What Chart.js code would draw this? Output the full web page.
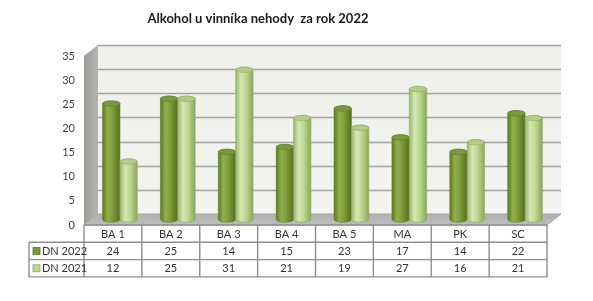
<!DOCTYPE html>
<html>
<head>
<meta charset="utf-8">
<script src="https://cdn.jsdelivr.net/npm/chart.js@4.4.1/dist/chart.umd.min.js"></script>
<style>
    html, body { margin: 0; background: #fff; }
    #wrap { width: 593px; height: 301px; }
</style>
</head>
<body>
<div id="wrap"><canvas id="chart"></canvas></div>
<script>
// ================= DATA =================
const categories = ['BA 1', 'BA 2', 'BA 3', 'BA 4', 'BA 5', 'MA', 'PK', 'SC'];
const dn2022 = [24, 25, 14, 15, 23, 17, 14, 22];
const dn2021 = [12, 25, 31, 21, 19, 27, 16, 21];
const seriesNames = ['DN 2022', 'DN 2021'];
const titleText = 'Alkohol u vinníka nehody  za rok 2022';

// 3D look
const DEPTH = { x: 14, y: 11 };
const FONT = 'Lato, "Open Sans", sans-serif';
const PALETTES = [
    {
        body: [[0, '#5d7b24'], [0.3, '#8fb14b'], [0.55, '#7f9f3c'], [1, '#556f1f']],
        top: '#7a9a3a', rim: '#5e7c28', key: '#7a9a3a'
    },
    {
        body: [[0, '#97b766'], [0.3, '#d5e8b8'], [0.6, '#bdd78f'], [1, '#8aa758']],
        top: '#b2cd85', rim: '#8eab5e', key: '#bcd68f'
    }
];
const ROW_H = 17.3;

// ================= DRAW HELPERS =================
function cylinder(ctx, cx, top, base, w, pal) {
    const l = cx - w / 2, r = cx + w / 2, ry = 2.7;
    const g = ctx.createLinearGradient(l, 0, r, 0);
    pal.body.forEach(([s, c]) => g.addColorStop(s, c));

    ctx.beginPath();
    ctx.moveTo(l, top);
    ctx.lineTo(l, base);
    ctx.ellipse(cx, base, w / 2, ry, 0, Math.PI, 0, true);
    ctx.lineTo(r, top);
    ctx.ellipse(cx, top, w / 2, ry, 0, 0, Math.PI, true);
    ctx.closePath();
    ctx.fillStyle = g;
    ctx.fill();
    ctx.strokeStyle = pal.rim;
    ctx.lineWidth = 0.6;
    ctx.stroke();

    ctx.beginPath();
    ctx.ellipse(cx, top, w / 2, ry, 0, 0, Math.PI * 2);
    ctx.fillStyle = pal.top;
    ctx.fill();
    ctx.stroke();
}

// walls, floor and gridlines behind the bars
const wallsPlugin = {
    id: 'walls',
    beforeDatasetsDraw(chart) {
        const { ctx, chartArea: a, scales: { y } } = chart;
        const y0 = y.getPixelForValue(0), yMax = y.getPixelForValue(y.max);
        ctx.save();

        // back wall
        const bg = ctx.createLinearGradient(0, yMax - DEPTH.y, 0, y0 - DEPTH.y);
        bg.addColorStop(0, '#eef0ea');
        bg.addColorStop(1, '#f3f4f0');
        ctx.fillStyle = bg;
        ctx.fillRect(a.left + DEPTH.x, yMax - DEPTH.y, a.right - a.left, y0 - yMax);

        // left wall
        const lg = ctx.createLinearGradient(a.left, 0, a.left + DEPTH.x, 0);
        lg.addColorStop(0, '#9c9d99');
        lg.addColorStop(1, '#b3b4af');
        ctx.fillStyle = lg;
        ctx.beginPath();
        ctx.moveTo(a.left, yMax);
        ctx.lineTo(a.left + DEPTH.x, yMax - DEPTH.y);
        ctx.lineTo(a.left + DEPTH.x, y0 - DEPTH.y);
        ctx.lineTo(a.left, y0);
        ctx.closePath();
        ctx.fill();

        // floor
        const fg = ctx.createLinearGradient(0, y0 - DEPTH.y, 0, y0);
        fg.addColorStop(0, '#b0b0b0');
        fg.addColorStop(1, '#bdbdbd');
        ctx.fillStyle = fg;
        ctx.beginPath();
        ctx.moveTo(a.left, y0);
        ctx.lineTo(a.left + DEPTH.x, y0 - DEPTH.y);
        ctx.lineTo(a.right + DEPTH.x, y0 - DEPTH.y);
        ctx.lineTo(a.right, y0);
        ctx.closePath();
        ctx.fill();
        ctx.strokeStyle = '#a8a8a8';
        ctx.lineWidth = 1;
        ctx.stroke();

        // gridlines on back wall
        ctx.strokeStyle = '#a3a3a3';
        ctx.lineWidth = 1.6;
        y.ticks.forEach(t => {
            if (t.value === 0) return;
            const py = Math.round(y.getPixelForValue(t.value) - DEPTH.y) + 0.5;
            ctx.beginPath();
            ctx.moveTo(a.left + DEPTH.x, py);
            ctx.lineTo(a.right + DEPTH.x, py);
            ctx.stroke();
        });
        ctx.restore();
    },
    afterDatasetsDraw(chart) {
        const { ctx } = chart;
        ctx.save();
        chart.data.datasets.forEach((ds, di) => {
            const meta = chart.getDatasetMeta(di);
            meta.data.forEach(el => {
                cylinder(ctx, el.x + DEPTH.x / 2, el.y - DEPTH.y / 2,
                    el.base - DEPTH.y / 2, el.width, PALETTES[di]);
            });
        });
        ctx.restore();
    }
};

// data table under the plot + title (placed off-centre like the original)
const tablePlugin = {
    id: 'dataTable',
    afterDraw(chart) {
        const { ctx, chartArea: a, scales: { x } } = chart;
        const colW = (a.right - a.left) / categories.length;
        const top = a.bottom;
        const rows = [top, top + ROW_H, top + ROW_H * 2, top + ROW_H * 3];
        const legendLeft = 29;

        ctx.save();
        ctx.font = 'bold 13px ' + FONT;
        ctx.fillStyle = '#1a1a1a';
        ctx.textAlign = 'center';
        ctx.textBaseline = 'middle';
        ctx.fillText(titleText, 258, 19);

        ctx.strokeStyle = '#8e8e8e';
        ctx.lineWidth = 1.4;

        // horizontal lines
        ctx.beginPath();
        ctx.moveTo(a.left, rows[0]); ctx.lineTo(a.right, rows[0]);
        for (let r = 1; r < rows.length; r++) {
            ctx.moveTo(legendLeft, rows[r]); ctx.lineTo(a.right, rows[r]);
        }
        // vertical lines
        for (let i = 0; i <= categories.length; i++) {
            const px = a.left + i * colW;
            ctx.moveTo(px, rows[0]); ctx.lineTo(px, rows[3]);
        }
        ctx.moveTo(legendLeft, rows[1]); ctx.lineTo(legendLeft, rows[3]);
        ctx.stroke();

        // texts
        ctx.font = '11px ' + FONT;
        ctx.fillStyle = '#333';
        const series = [dn2022, dn2021];
        categories.forEach((c, i) => {
            const cx = x.getPixelForValue(i);
            ctx.fillText(c, cx, rows[0] + ROW_H / 2 + 0.5);
            series.forEach((s, si) => ctx.fillText(String(s[i]), cx, rows[si + 1] + ROW_H / 2 + 0.5));
        });

        // legend keys
        ctx.textAlign = 'left';
        seriesNames.forEach((n, si) => {
            const cy = rows[si + 1] + ROW_H / 2;
            ctx.fillStyle = PALETTES[si].key;
            ctx.fillRect(33, cy - 3.5, 7, 7);
            ctx.strokeStyle = PALETTES[si].rim;
            ctx.lineWidth = 0.8;
            ctx.strokeRect(33, cy - 3.5, 7, 7);
            ctx.fillStyle = '#333';
            ctx.fillText(n, 42, cy + 0.5);
        });
        ctx.restore();
    }
};

// ================= CHART =================
new Chart(document.getElementById('chart'), {
    type: 'bar',
    data: {
        labels: categories,
        datasets: [dn2022, dn2021].map((d, i) => ({
            label: seriesNames[i],
            data: d,
            backgroundColor: 'rgba(0,0,0,0)',
            borderWidth: 0,
            categoryPercentage: 0.6,
            barPercentage: 1.0
        }))
    },
    options: {
        responsive: true,
        maintainAspectRatio: false,
        animation: false,
        layout: { padding: { left: 0, right: 46, top: 56, bottom: 76 } },
        plugins: {
            legend: { display: false },
            tooltip: { enabled: false },
            title: { display: false }
        },
        scales: {
            x: { display: false },
            y: {
                min: 0,
                max: 35,
                ticks: {
                    stepSize: 5,
                    padding: 9,
                    color: '#404040',
                    font: { family: FONT, size: 11 }
                },
                grid: { display: false, drawTicks: false },
                border: { display: false },
                afterFit(scale) { scale.width = 84; }
            }
        }
    },
    plugins: [wallsPlugin, tablePlugin]
});
</script>
</body>
</html>
